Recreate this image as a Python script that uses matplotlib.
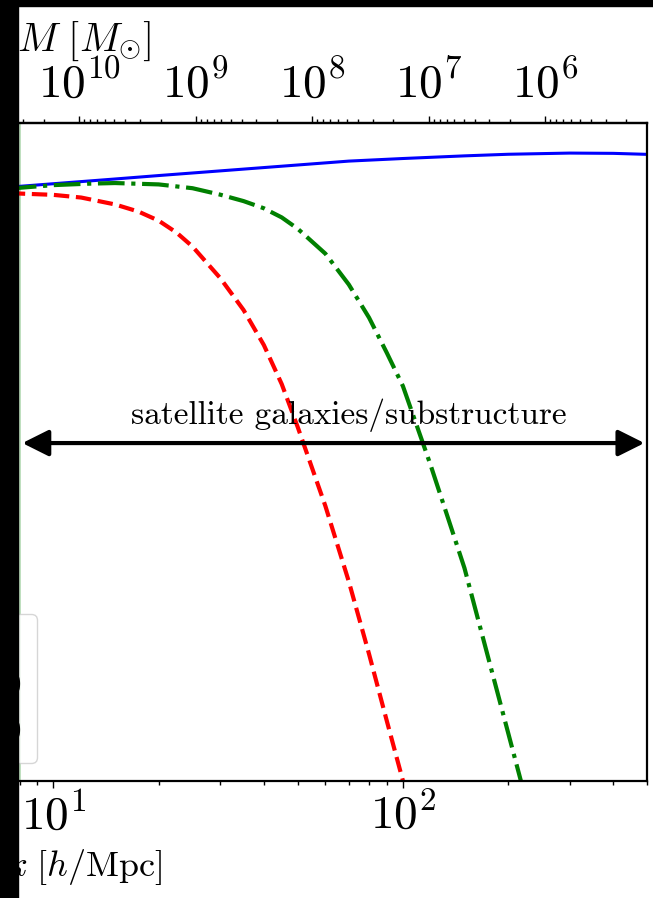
import numpy as np
import matplotlib
matplotlib.use("Agg")
import matplotlib.pyplot as plt
from matplotlib.patches import Rectangle
from matplotlib.ticker import LogLocator, NullFormatter

# Computer Modern look
plt.rcParams['font.family'] = 'serif'
plt.rcParams['font.serif'] = ['cmr10']
plt.rcParams['mathtext.fontset'] = 'cm'
plt.rcParams['axes.formatter.use_mathtext'] = True
plt.rcParams['axes.unicode_minus'] = False

## data: dimensionless power vs wavenumber k [h/Mpc]
k_cdm = [7.5, 10, 15, 20, 30, 50, 70, 100, 150, 200, 300, 400, 500]
d_cdm = [259, 278, 307, 330, 364, 412, 447, 472, 499, 516, 529, 526, 515]

k_wdm_hi = [7.5, 10, 12.5, 15, 20, 25, 30, 35, 40, 45, 50, 60, 70, 80, 90,
            100, 120, 150, 200, 230]
d_wdm_hi = [251, 270, 278, 282, 274, 253, 221, 193, 166, 137, 108, 64,
            33.5, 16.7, 7.94, 3.97, 0.756, 0.087, 0.00274, 0.00051]

k_wdm_lo = [7.5, 10, 12, 15, 17.5, 20, 22.5, 25, 30, 35, 40, 45, 50, 60,
            70, 80, 90, 100, 105]
d_wdm_lo = [228, 220, 208, 180, 155, 128, 99.7, 74.3, 38.4, 19.6, 9.4,
            4.14, 1.68, 0.320, 0.0657, 0.0143, 0.00348, 0.00100, 0.000575]

labels = [r'CDM', r'WDM, $m_{\rm x}=3.0$', r'WDM, $m_{\rm x}=1.0$']

k_min, k_max = 0.3, 500.0
k_sat = (8.0, 500.0)        # satellite / substructure range
y_arrow = 1.2
C_M = 1.66e13               # M = C_M / k^3  [M_sun]


def k_to_M(k):
  return C_M / np.asarray(k, dtype=float)**3


def M_to_k(M):
  return (C_M / np.asarray(M, dtype=float))**(1.0/3.0)


fig = plt.figure(figsize=(6.53, 8.98), dpi=100)
ax = fig.add_axes([-0.7332, 0.1306, 1.7243, 0.7327])
ax.set_xscale('log')
ax.set_yscale('log')
ax.set_xlim(k_min, k_max)
ax.set_ylim(1e-3, 1e3)

ax.axvspan(k_min, 8.1, color='g', alpha=0.25, lw=0)

ax.plot(k_cdm, d_cdm, color='b', lw=2.2, label=labels[0])
ax.plot(k_wdm_hi, d_wdm_hi, color='g', lw=3, ls='-.', label=labels[1])
ax.plot(k_wdm_lo, d_wdm_lo, color='r', lw=3, ls='--', label=labels[2])

ax.annotate('', xy=(k_sat[1], y_arrow), xytext=(k_sat[0], y_arrow),
            arrowprops=dict(arrowstyle='<|-|>', lw=3, color='k',
                            mutation_scale=40))
ax.text(70, 1.80, 'satellite galaxies/substructure',
        ha='center', va='baseline', fontsize=24)

for s in ax.spines.values():
  s.set_linewidth(1.6)
ax.tick_params(axis='x', which='major', labelsize=34, length=5, width=1)
ax.tick_params(axis='x', which='minor', length=3, width=1)
ax.xaxis.set_major_locator(LogLocator(base=10, numticks=20))
ax.xaxis.set_minor_locator(LogLocator(base=10, subs=np.arange(2, 10), numticks=20))
ax.xaxis.set_minor_formatter(NullFormatter())
ax.set_xlabel(r'$k\ [h/\mathrm{Mpc}]$', fontsize=26, labelpad=6)

secax = ax.secondary_xaxis('top', functions=(k_to_M, M_to_k))
secax.xaxis.set_major_locator(LogLocator(base=10, numticks=30))
secax.xaxis.set_minor_locator(LogLocator(base=10, subs=np.arange(2, 10), numticks=30))
secax.xaxis.set_minor_formatter(NullFormatter())
secax.tick_params(axis='x', which='major', labelsize=34, length=5, width=1, pad=7)
secax.tick_params(axis='x', which='minor', length=3, width=1)
secax.spines['top'].set_linewidth(1.6)
secax.set_xlabel(r'$M\ [M_{\odot}]$', fontsize=29, labelpad=6)

ax.legend(loc='lower right', bbox_to_anchor=(37/653, (898-763)/898),
          bbox_transform=fig.transFigure, borderaxespad=0, fontsize=22,
          borderpad=0.5)

# black borders
fig.add_artist(Rectangle((0, 0), 18/653, 1, transform=fig.transFigure,
                         color='k', zorder=100))
fig.add_artist(Rectangle((0, 1-6/898), 1, 6/898, transform=fig.transFigure,
                         color='k', zorder=100))

fig.savefig('out.png', dpi=100)
